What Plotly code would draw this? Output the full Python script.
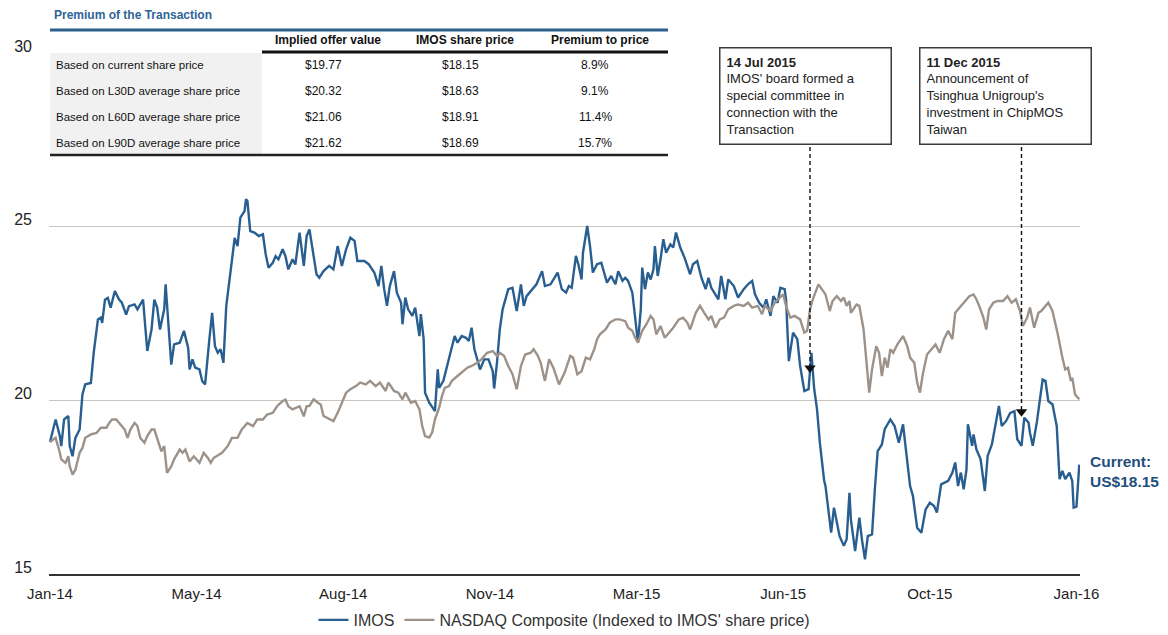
import pandas as pd
import plotly.graph_objects as go

# ---------------- data ----------------
start_date = "2014-01-21"
end_date = "2016-01-21"

# IMOS share price (US$), days counted from start_date
imos_day = [
    0, 4, 7, 8, 10, 13, 14, 16, 18, 21,
    23, 25, 29, 31, 34, 36, 37, 39, 41, 43,
    46, 49, 51, 54, 56, 60, 62, 66, 69, 72,
    74, 76, 78, 81, 82, 84, 86, 88, 92, 95,
    98, 99, 101, 103, 106, 108, 110, 113, 115, 117,
    119, 121, 123, 125, 128, 129, 131, 133, 135, 138,
    139, 140, 142, 145, 148, 151, 153, 155, 158, 160,
    162, 165, 167, 169, 172, 174, 177, 180, 182, 184,
    186, 189, 191, 194, 198, 201, 204, 207, 210, 213,
    216, 218, 223, 226, 230, 233, 235, 237, 239, 241,
    244, 246, 249, 250, 252, 254, 257, 259, 262, 263,
    265, 266, 269, 271, 273, 275, 276, 279, 282, 284,
    287, 289, 292, 295, 297, 299, 301, 303, 305, 308,
    311, 314, 315, 317, 319, 321, 323, 325, 328, 331,
    334, 336, 338, 342, 345, 349, 351, 355, 360, 363,
    366, 368, 370, 373, 375, 377, 378, 381, 383, 385,
    388, 391, 395, 398, 401, 403, 406, 408, 410, 413,
    415, 417, 419, 420, 422, 424, 426, 428, 429, 431,
    433, 435, 437, 440, 442, 444, 447, 450, 454, 456,
    459, 462, 465, 467, 469, 472, 474, 476, 479, 481,
    485, 488, 492, 495, 498, 500, 503, 506, 508, 511,
    513, 516, 518, 521, 522, 524, 527, 530, 532, 535,
    538, 540, 542, 544, 546, 549, 550, 552, 554, 556,
    558, 560, 563, 565, 567, 568, 571, 574, 576, 578,
    580, 583, 585, 587, 590, 592, 596, 599, 602, 605,
    607, 610, 612, 615, 618, 621, 624, 627, 629, 632,
    637, 640, 642, 644, 646, 648, 650, 651, 654, 655,
    657, 660, 663, 665, 668, 670, 673, 675, 678, 681,
    684, 686, 689, 691, 694, 695, 697, 700, 702, 704,
    706, 708, 711, 714, 716, 718, 720, 723, 725, 726,
    728, 730,
]
imos_price = [
    18.8, 19.45, 18.97, 18.68, 19.45, 19.55, 18.68, 18.39, 18.92, 19.16,
    20.17, 20.46, 20.5, 21.37, 22.33, 22.38, 22.23, 22.9, 22.95, 22.67,
    23.15, 22.9, 22.81, 22.47, 22.71, 22.76, 22.62, 22.9, 21.42, 22.04,
    22.9, 22.67, 22.04, 22.62, 23.34, 22.23, 21.03, 21.61, 21.66, 22.0,
    21.51, 20.89, 21.18, 20.94, 20.89, 20.55, 20.46, 21.75, 22.52, 21.56,
    21.37, 21.47, 21.08, 22.71, 23.77, 24.01, 24.68, 24.44, 25.26, 25.45,
    25.79, 25.74, 24.87, 24.83, 24.73, 24.78, 24.2, 23.82, 23.96, 24.15,
    24.06, 24.35, 24.15, 23.77, 24.06, 23.91, 24.83, 23.87, 24.73, 24.92,
    24.35, 23.63, 23.53, 23.72, 23.87, 23.77, 24.44, 23.87, 24.35, 24.68,
    24.59, 24.01, 24.01, 23.92, 23.68, 23.29, 23.87, 23.2, 22.72, 23.29,
    23.72, 23.1, 22.81, 22.19, 22.96, 22.62, 22.43, 22.67, 21.85, 22.48,
    21.76, 20.22, 19.93, 19.79, 19.69, 20.89, 20.36, 20.56, 21.08, 21.37,
    21.85, 21.66, 21.85, 21.8, 21.71, 22.09, 21.47, 21.18, 20.89, 21.18,
    21.18, 20.84, 20.34, 21.08, 22.04, 22.62, 22.91, 23.2, 23.24, 22.57,
    23.34, 22.72, 23.0, 23.2, 23.34, 23.72, 23.29, 23.34, 23.68, 23.2,
    23.1, 23.29, 23.24, 24.16, 23.87, 23.48, 24.25, 25.02, 24.44, 23.68,
    23.92, 23.96, 23.39, 23.58, 23.34, 23.72, 23.44, 23.53, 23.44, 23.1,
    22.33, 21.66, 22.62, 23.82, 23.2, 23.68, 23.48, 23.77, 24.44, 23.58,
    24.06, 24.64, 24.25, 24.49, 24.4, 24.83, 24.4, 24.11, 23.63, 23.92,
    24.01, 23.53, 23.2, 23.53, 23.24, 23.05, 22.91, 23.58, 22.91, 23.48,
    23.29, 22.96, 23.2, 23.34, 23.44, 23.05, 22.81, 22.67, 22.91, 22.43,
    23.0, 22.81, 23.24, 23.2, 22.91, 21.13, 21.95, 21.76, 20.99, 20.27,
    20.32, 21.37, 20.32, 19.74, 18.78, 17.7, 17.53, 16.86, 16.19, 16.91,
    16.48, 16.09, 15.81, 16.0, 17.34, 16.57, 15.66, 16.62, 15.95, 15.42,
    16.09, 16.14, 17.44, 18.54, 18.73, 19.17, 19.45, 19.26, 18.78, 19.31,
    18.59, 17.53, 17.25, 16.33, 16.19, 16.86, 17.05, 16.96, 16.77, 17.58,
    17.68, 17.92, 18.21, 17.53, 17.92, 17.44, 18.01, 19.31, 18.69, 19.02,
    18.59, 18.3, 17.39, 18.4, 18.73, 19.17, 19.84, 19.26, 19.4, 19.64,
    19.69, 18.88, 18.69, 19.5, 19.36, 19.07, 18.69, 19.4, 19.93, 20.6,
    20.56, 19.98, 19.88, 19.26, 17.73, 17.97, 17.73, 17.92, 17.68, 16.91,
    16.94, 18.15,
]

# NASDAQ Composite indexed to IMOS' share price, days counted from start_date
nasdaq_day = [
    0, 4, 7, 8, 11, 13, 14, 16, 18, 21,
    23, 25, 29, 33, 36, 40, 42, 44, 47, 50,
    53, 55, 57, 60, 62, 64, 67, 69, 72, 74,
    76, 79, 81, 83, 86, 88, 92, 94, 96, 99,
    102, 106, 109, 112, 114, 116, 120, 122, 126, 129,
    133, 136, 140, 144, 147, 151, 154, 158, 161, 165,
    167, 169, 172, 174, 177, 180, 182, 184, 187, 190,
    192, 194, 198, 201, 204, 207, 210, 213, 217, 220,
    224, 227, 231, 234, 238, 240, 244, 247, 250, 252,
    256, 259, 262, 264, 266, 269, 271, 273, 276, 278,
    280, 283, 285, 289, 292, 296, 299, 303, 306, 310,
    314, 317, 319, 322, 325, 328, 331, 334, 337, 341,
    343, 346, 348, 351, 354, 357, 361, 365, 369, 371,
    374, 377, 380, 383, 386, 388, 390, 394, 397, 401,
    404, 408, 410, 413, 415, 417, 420, 423, 426, 428,
    430, 433, 436, 439, 442, 446, 449, 452, 454, 458,
    461, 464, 467, 469, 472, 475, 478, 481, 485, 488,
    492, 495, 498, 502, 505, 507, 511, 514, 518, 520,
    522, 525, 528, 532, 535, 537, 539, 541, 545, 550,
    553, 555, 558, 561, 563, 565, 567, 568, 572, 574,
    577, 579, 581, 583, 586, 588, 590, 592, 594, 596,
    598, 601, 605, 608, 610, 613, 615, 617, 619, 622,
    625, 628, 631, 634, 637, 640, 642, 645, 649, 652,
    655, 657, 659, 662, 664, 666, 669, 672, 676, 679,
    682, 685, 688, 690, 693, 695, 698, 701, 703, 708,
    711, 713, 715, 718, 720, 722, 724, 725, 727, 730,
]
nasdaq_indexed = [
    18.8, 18.92, 18.49, 18.3, 18.2, 18.39, 18.1, 17.86, 18.0, 18.49,
    18.63, 18.92, 19.02, 19.06, 19.21, 19.21, 19.35, 19.45, 19.45, 19.3,
    19.16, 18.92, 19.16, 19.35, 19.26, 18.92, 18.78, 18.97, 19.16, 19.16,
    18.92, 18.53, 18.68, 17.91, 18.1, 18.3, 18.58, 18.49, 18.58, 18.24,
    18.39, 18.2, 18.49, 18.34, 18.2, 18.34, 18.44, 18.49, 18.68, 18.92,
    18.92, 19.16, 19.35, 19.26, 19.45, 19.45, 19.59, 19.64, 19.83, 19.98,
    20.02, 19.83, 19.74, 19.78, 19.83, 19.54, 19.83, 19.84, 20.03, 19.93,
    19.88, 19.55, 19.45, 19.4, 19.64, 19.93, 20.22, 20.32, 20.41, 20.51,
    20.46, 20.56, 20.41, 20.51, 20.27, 20.51, 20.27, 20.22, 20.03, 20.22,
    19.93, 19.98, 19.74, 19.26, 18.97, 18.93, 19.07, 19.45, 19.79, 20.12,
    20.36, 20.41, 20.56, 20.7, 20.8, 20.94, 20.99, 21.08, 21.18, 21.37,
    21.42, 21.28, 21.37, 21.28, 20.99, 20.75, 20.32, 20.99, 21.32, 21.37,
    21.47, 21.28, 21.08, 20.56, 21.18, 20.94, 20.46, 20.8, 21.28, 21.23,
    20.75, 20.84, 21.23, 21.18, 21.47, 21.76, 21.9, 22.04, 22.24, 22.33,
    22.33, 22.28, 22.09, 22.0, 21.8, 21.66, 22.0, 22.19, 22.43, 22.33,
    21.9, 22.14, 21.8, 21.95, 22.09, 22.33, 22.38, 22.24, 22.04, 22.52,
    22.72, 22.52, 22.33, 22.43, 22.09, 22.33, 22.38, 22.62, 22.72, 22.76,
    22.72, 22.81, 22.67, 22.72, 22.48, 22.72, 22.57, 22.81, 22.96, 23.05,
    22.72, 22.38, 22.43, 22.33, 21.95, 22.0, 22.62, 22.91, 23.34, 23.05,
    22.57, 22.86, 23.0, 22.86, 22.96, 22.72, 22.86, 22.52, 22.76, 22.72,
    22.04, 21.18, 20.22, 20.89, 21.56, 21.37, 20.7, 21.23, 20.94, 21.47,
    21.37, 21.61, 21.85, 21.56, 21.23, 21.08, 20.51, 20.22, 20.75, 21.32,
    21.47, 21.61, 21.37, 21.76, 22.0, 21.76, 22.52, 22.67, 22.86, 23.0,
    23.05, 22.91, 22.72, 22.38, 22.04, 22.62, 22.81, 22.86, 22.86, 23.0,
    22.81, 22.91, 22.57, 22.14, 22.38, 22.67, 22.09, 22.52, 22.57, 22.81,
    22.57, 22.24, 21.85, 21.23, 20.89, 20.94, 20.56, 20.65, 20.17, 20.03,
]

series_names = ["IMOS", "NASDAQ Composite (Indexed to IMOS' share price)"]

y_tick_values = [15, 20, 25, 30]
x_tick_first = "2014-01-21"
x_tick_step_days = 104
x_tick_format = "%b-%y"

table_title = "Premium of the Transaction"
table_columns = ["Implied offer value", "IMOS share price", "Premium to price"]
table_row_labels = [
    "Based on current share price",
    "Based on L30D average share price",
    "Based on L60D average share price",
    "Based on L90D average share price",
]
implied_offer_value = ["$19.77", "$20.32", "$21.06", "$21.62"]
imos_share_price = ["$18.15", "$18.63", "$18.91", "$18.69"]
premium_to_price = ["8.9%", "9.1%", "11.4%", "15.7%"]

event_dates = ["2015-07-14", "2015-12-11"]
event_titles = ["14 Jul 2015", "11 Dec 2015"]
event_texts = [
    "IMOS' board formed a<br>special committee in<br>connection with the<br>Transaction",
    "Announcement of<br>Tsinghua Unigroup's<br>investment in ChipMOS<br>Taiwan",
]
event_arrow_values = [20.93, 19.67]

current_label = "Current:<br>US$18.15"

# ---------------- style ----------------
FONT = "Liberation Sans, Arial, sans-serif"
BLUE = "#295f90"
GREY = "#9d9289"
GRID = "#cbc4bf"
TITLE_BLUE = "#2f6497"

W, H = 1168, 635
PL, PR, PT, PB = 49, 1080, 53, 574


def px(x):
    return (x - PL) / (PR - PL)


def py(y):
    return (PB - y) / (PB - PT)


start = pd.Timestamp(start_date)
imos_dates = start + pd.to_timedelta(imos_day, unit="D")
nasdaq_dates = start + pd.to_timedelta(nasdaq_day, unit="D")

fig = go.Figure()
fig.add_trace(go.Scatter(x=imos_dates, y=imos_price, mode="lines", name=series_names[0],
                         line=dict(color=BLUE, width=2.4)))
fig.add_trace(go.Scatter(x=nasdaq_dates, y=nasdaq_indexed, mode="lines", name=series_names[1],
                         line=dict(color=GREY, width=2.4)))

shapes = []
annotations = []

# ---- table ----
tbl_l, tbl_r, lab_r = 50, 668, 262
shapes.append(dict(type="rect", xref="paper", yref="paper", x0=px(tbl_l), x1=px(lab_r),
                   y0=py(154), y1=py(53), fillcolor="#f1f1f1", line=dict(width=0), layer="above"))
shapes.append(dict(type="line", xref="paper", yref="paper", x0=px(tbl_l), x1=px(tbl_r),
                   y0=py(30), y1=py(30), line=dict(color="#2c5e8e", width=3)))
shapes.append(dict(type="line", xref="paper", yref="paper", x0=px(lab_r), x1=px(tbl_r),
                   y0=py(52), y1=py(52), line=dict(color="#111111", width=3)))
shapes.append(dict(type="line", xref="paper", yref="paper", x0=px(tbl_l), x1=px(tbl_r),
                   y0=py(155), y1=py(155), line=dict(color="#222222", width=2.5)))

annotations.append(dict(xref="paper", yref="paper", x=px(52), y=py(15), xanchor="left", yanchor="middle",
                        text="<b>" + table_title + "</b>", showarrow=False,
                        font=dict(size=12, color=TITLE_BLUE, family=FONT)))
col_x = [328, 465, 600]
for cx, name in zip(col_x, table_columns):
    annotations.append(dict(xref="paper", yref="paper", x=px(cx), y=py(40), xanchor="center", yanchor="middle",
                            text="<b>" + name + "</b>", showarrow=False,
                            font=dict(size=12, color="#111111", family=FONT)))
row_y = [65, 91, 117, 143]
for ry, lab, v1, v2, v3 in zip(row_y, table_row_labels, implied_offer_value, imos_share_price, premium_to_price):
    annotations.append(dict(xref="paper", yref="paper", x=px(54), y=py(ry), xanchor="left", yanchor="middle",
                            text=lab, showarrow=False, font=dict(size=11.5, color="#111111", family=FONT)))
    for cx, v in zip(col_x, [v1, v2, v3]):
        annotations.append(dict(xref="paper", yref="paper", x=px(cx - 5), y=py(ry), xanchor="center",
                                yanchor="middle", text=v, showarrow=False,
                                font=dict(size=12, color="#111111", family=FONT)))

# ---- event boxes with dashed arrows ----
box_left = [719, 919]
box_top, box_bottom = 47, 147
box_bottom_value = 15 + (PB - box_bottom) * 15 / (PB - PT)
for bl, d, t, txt, av in zip(box_left, event_dates, event_titles, event_texts, event_arrow_values):
    annotations.append(dict(xref="paper", yref="paper", x=px(bl), y=py(box_top), xanchor="left", yanchor="top",
                            align="left", text="<b>" + t + "</b><br>" + txt, showarrow=False,
                            bordercolor="#3a3a3a", borderwidth=1.5, borderpad=6, bgcolor="white",
                            width=158, font=dict(size=13, color="#222222", family=FONT)))
    shapes.append(dict(type="line", xref="x", yref="y", x0=d, x1=d, y0=box_bottom_value, y1=av,
                       line=dict(color="#111111", width=1.4, dash="4px,3px")))

fig.add_trace(go.Scatter(x=event_dates, y=event_arrow_values, mode="markers", showlegend=False,
                         hoverinfo="skip",
                         marker=dict(symbol="triangle-down", size=10, color="#111111")))

# ---- current price label ----
annotations.append(dict(xref="paper", yref="paper", x=px(1088), y=py(471), xanchor="left", yanchor="middle",
                        align="left", text="<b>" + current_label + "</b>", showarrow=False,
                        font=dict(size=15.5, color="#1f4e7d", family=FONT)))

fig.update_layout(
    width=W, height=H,
    margin=dict(l=PL, r=W - PR, t=PT, b=H - PB, autoexpand=False),
    paper_bgcolor="white", plot_bgcolor="white",
    font=dict(family=FONT, color="#222222"),
    showlegend=True,
    legend=dict(orientation="h", x=0.5, xanchor="center", y=py(620), yanchor="middle",
                font=dict(size=16, color="#333333"), bgcolor="rgba(0,0,0,0)", traceorder="normal"),
    xaxis=dict(type="date", range=[start - pd.Timedelta(hours=17), pd.Timestamp(end_date) + pd.Timedelta(hours=12)],
               tick0=x_tick_first, dtick=x_tick_step_days * 86400000, tickformat=x_tick_format,
               showgrid=False, zeroline=False, showline=True, linecolor="#333333", linewidth=2,
               ticks="", tickfont=dict(size=15, color="#222222"), ticklabelstandoff=5, automargin=False),
    yaxis=dict(range=[15, 30], tickvals=y_tick_values, showgrid=True, gridcolor=GRID, gridwidth=1.2,
               zeroline=False, showline=False, ticks="", tickfont=dict(size=16, color="#222222"),
               ticklabelstandoff=16, ticklabelshift=-7, automargin=False),
    shapes=shapes,
    annotations=annotations,
)

fig.write_html(
    "out.html",
    config={"responsive": False, "displayModeBar": False},
    post_script="document.body.style.margin='0px';document.body.style.padding='0px';"
                "document.documentElement.style.overflow='hidden';",
)
